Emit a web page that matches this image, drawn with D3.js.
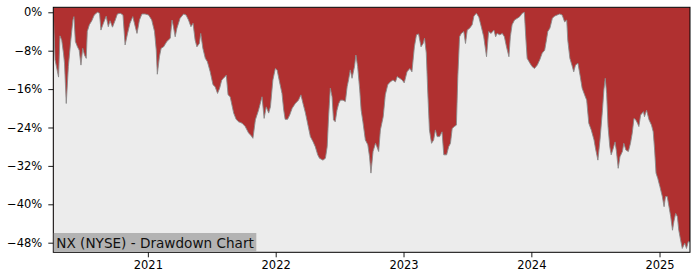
<!DOCTYPE html>
<html>
<head>
<meta charset="utf-8">
<script src="https://cdn.jsdelivr.net/npm/d3@7"></script>
<style>
  html, body { margin: 0; padding: 0; background: #ffffff; }
  svg { display: block; }
  text { font-family: "DejaVu Sans", sans-serif; }
</style>
</head>
<body>
<div id="chart"></div>
<script>
// ---- data ----
const dates = [
  "2020-04-06","2020-04-11","2020-04-21","2020-04-25","2020-04-30","2020-05-05","2020-05-08","2020-05-13","2020-05-19","2020-05-26",
  "2020-06-01","2020-06-04","2020-06-08","2020-06-14","2020-06-19","2020-06-24","2020-06-29","2020-07-04","2020-07-09","2020-07-12",
  "2020-07-18","2020-07-25","2020-08-01","2020-08-10","2020-08-16","2020-08-20","2020-08-27","2020-09-04","2020-09-10","2020-09-15",
  "2020-09-22","2020-09-30","2020-10-06","2020-10-14","2020-10-22","2020-10-28","2020-11-04","2020-11-11","2020-11-19","2020-11-26",
  "2020-12-01","2020-12-08","2020-12-15","2020-12-24","2021-01-03","2021-01-12","2021-01-20","2021-01-25","2021-01-28","2021-02-03",
  "2021-02-08","2021-02-15","2021-02-24","2021-03-06","2021-03-11","2021-03-15","2021-03-20","2021-03-25","2021-04-03","2021-04-13",
  "2021-04-20","2021-04-27","2021-05-04","2021-05-10","2021-05-16","2021-05-21","2021-05-28","2021-06-01","2021-06-07","2021-06-14",
  "2021-06-20","2021-06-28","2021-07-06","2021-07-12","2021-07-19","2021-07-25","2021-07-31","2021-08-05","2021-08-13","2021-08-18",
  "2021-08-24","2021-09-03","2021-09-10","2021-09-17","2021-09-27","2021-10-06","2021-10-16","2021-10-22","2021-10-28","2021-11-04",
  "2021-11-13","2021-11-23","2021-11-29","2021-12-05","2021-12-12","2021-12-17","2021-12-24","2021-12-31","2022-01-05","2022-01-12",
  "2022-01-19","2022-01-24","2022-01-28","2022-02-04","2022-02-10","2022-02-17","2022-02-26","2022-03-07","2022-03-14","2022-03-20",
  "2022-03-27","2022-04-02","2022-04-10","2022-04-18","2022-04-24","2022-05-01","2022-05-06","2022-05-16","2022-05-23","2022-05-28",
  "2022-06-01","2022-06-06","2022-06-11","2022-06-15","2022-06-20","2022-06-25","2022-06-30","2022-07-05","2022-07-12","2022-07-19",
  "2022-07-24","2022-07-28","2022-08-02","2022-08-07","2022-08-14","2022-08-18","2022-08-23","2022-08-29","2022-09-02","2022-09-07",
  "2022-09-14","2022-09-21","2022-09-26","2022-09-30","2022-10-06","2022-10-13","2022-10-17","2022-10-22","2022-10-27","2022-11-04",
  "2022-11-10","2022-11-17","2022-11-24","2022-12-02","2022-12-09","2022-12-14","2022-12-21","2022-12-28","2023-01-03","2023-01-11",
  "2023-01-19","2023-01-25","2023-02-01","2023-02-07","2023-02-13","2023-02-20","2023-02-26","2023-03-02","2023-03-07","2023-03-11",
  "2023-03-16","2023-03-22","2023-03-28","2023-04-02","2023-04-07","2023-04-14","2023-04-21","2023-04-26","2023-05-04","2023-05-10",
  "2023-05-15","2023-05-20","2023-05-26","2023-06-01","2023-06-05","2023-06-10","2023-06-15","2023-06-22","2023-06-27","2023-07-02",
  "2023-07-09","2023-07-16","2023-07-21","2023-07-28","2023-08-04","2023-08-11","2023-08-18","2023-08-26","2023-09-01","2023-09-08",
  "2023-09-16","2023-09-21","2023-09-25","2023-10-03","2023-10-10","2023-10-16","2023-10-22","2023-10-29","2023-11-02","2023-11-07",
  "2023-11-14","2023-11-22","2023-11-29","2023-12-06","2023-12-12","2023-12-16","2023-12-20","2023-12-28","2024-01-03","2024-01-10",
  "2024-01-18","2024-01-25","2024-02-01","2024-02-08","2024-02-13","2024-02-17","2024-02-23","2024-03-01","2024-03-07","2024-03-15",
  "2024-03-22","2024-03-29","2024-04-05","2024-04-11","2024-04-14","2024-04-20","2024-04-27","2024-05-01","2024-05-06","2024-05-13",
  "2024-05-19","2024-05-25","2024-06-01","2024-06-07","2024-06-13","2024-06-20","2024-06-28","2024-07-02","2024-07-09","2024-07-15",
  "2024-07-22","2024-07-26","2024-07-30","2024-08-03","2024-08-07","2024-08-12","2024-08-16","2024-08-22","2024-08-27","2024-08-31",
  "2024-09-05","2024-09-10","2024-09-17","2024-09-21","2024-09-27","2024-10-04","2024-10-10","2024-10-15","2024-10-20","2024-10-25",
  "2024-10-30","2024-11-03","2024-11-08","2024-11-16","2024-11-19","2024-11-25","2024-12-02","2024-12-09","2024-12-14","2024-12-18",
  "2024-12-22","2024-12-27","2025-01-02","2025-01-09","2025-01-14","2025-01-18","2025-01-23","2025-01-28","2025-02-02","2025-02-07",
  "2025-02-11","2025-02-16","2025-02-21","2025-02-25","2025-03-02","2025-03-07","2025-03-14","2025-03-19","2025-03-24","2025-03-29"
];
const drawdown = [
  -0.35,-9.9,-13.5,-4.9,-5.8,-8.5,-10.6,-19.0,-11.3,-5.8,
  -1.6,-0.9,-6.1,-7.2,-7.9,-11.0,-7.5,-8.9,-9.6,-4.0,
  -2.6,-1.75,-0.56,0,-0.2,-3.7,-2.3,-0.8,-3.0,-1.75,
  -3.1,-1.6,-0.35,-0.2,-0.56,-6.8,-4.4,-2.3,-0.9,-3.0,
  -4.4,-1.6,-0.35,-0.35,-0.56,-1.6,-4.0,-7.9,-12.9,-9.25,
  -7.5,-7.2,-6.1,-5.4,-1.6,-3.0,-5.1,-3.3,-1.25,-0.35,
  -0.56,-1.6,-3.0,-2.3,-5.8,-7.2,-6.5,-4.4,-7.5,-9.6,
  -10.3,-12.4,-15.1,-15.5,-16.9,-15.8,-14.1,-13.75,-13.1,-17.2,
  -17.6,-21.0,-22.3,-22.8,-23.1,-23.8,-25.2,-25.6,-26.25,-22.4,
  -20.4,-17.6,-22.1,-19.7,-21.0,-19.7,-14.1,-11.7,-12.0,-14.5,
  -16.9,-20.4,-22.3,-22.3,-21.4,-20.0,-19.0,-18.3,-17.2,-19.0,
  -21.0,-23.1,-25.9,-27.0,-28.0,-29.7,-30.4,-30.8,-30.4,-28.0,
  -21.75,-15.8,-17.6,-22.4,-22.8,-20.4,-19.0,-18.3,-18.3,-18.6,
  -15.5,-14.1,-12.0,-13.75,-11.3,-8.9,-11.3,-16.2,-20.4,-22.8,
  -26.6,-27.6,-30.1,-33.5,-29.0,-27.3,-28.0,-29.0,-24.5,-21.75,
  -17.2,-15.1,-14.5,-14.1,-14.5,-13.4,-13.75,-14.1,-14.7,-12.4,
  -11.7,-12.4,-7.2,-4.7,-4.5,-7.2,-6.5,-5.4,-8.5,-16.2,
  -24.5,-27.3,-26.6,-24.5,-25.9,-25.9,-24.9,-29.7,-29.7,-28.0,
  -27.3,-24.2,-23.8,-23.5,-13.4,-5.1,-4.4,-4.0,-6.5,-3.7,
  -3.3,-2.6,-0.8,-0.2,-1.0,-3.0,-5.1,-9.25,-4.0,-4.4,
  -3.7,-5.1,-4.4,-4.7,-4.4,-5.1,-7.2,-9.25,-5.1,-2.6,
  -1.6,-1.25,-0.9,-0.2,0,-5.1,-9.6,-10.6,-11.3,-11.7,
  -11.0,-9.9,-8.5,-7.9,-5.8,-4.0,-3.3,-1.25,-0.8,-0.56,
  -0.35,-0.56,-2.0,-1.6,-5.8,-9.6,-11.3,-12.4,-11.0,-10.6,
  -13.1,-15.8,-17.2,-18.3,-23.1,-24.5,-26.6,-28.3,-30.8,-26.6,
  -20.4,-16.2,-13.75,-16.9,-23.8,-28.0,-29.7,-28.3,-27.0,-29.0,
  -32.5,-30.1,-29.0,-27.3,-28.7,-29.0,-27.3,-25.2,-22.1,-22.4,
  -23.1,-23.8,-21.4,-20.7,-21.75,-20.4,-22.4,-23.5,-24.9,-28.7,
  -33.5,-34.6,-36.3,-38.4,-40.5,-38.4,-38.4,-40.5,-42.6,-45.4,
  -43.6,-41.9,-42.6,-45.4,-47.4,-49.2,-48.1,-49.2,-47.8,-47.8
];
const yTicks = [0, -8, -16, -24, -32, -40, -48];
const xTickYears = [2021, 2022, 2023, 2024, 2025];
const titleText = "NX (NYSE) - Drawdown Chart";

// ---- layout ----
const W = 700, H = 280;
const margin = { left: 53.3, top: 7.3, right: 10, bottom: 27.7 };
const pw = 690 - margin.left, ph = 252.3 - margin.top;

const parse = d3.utcParse("%Y-%m-%d");
const data = dates.map((d, i) => ({ date: parse(d), v: drawdown[i] }));

const x = d3.scaleUtc().domain(d3.extent(data, d => d.date)).range([0, pw]);
const y = d3.scaleLinear().domain([-50, 1.04]).range([ph, 0]);

const svg = d3.select("#chart").append("svg").attr("width", W).attr("height", H);
const g = svg.append("g").attr("transform", `translate(${margin.left},${margin.top})`);

g.append("clipPath").attr("id", "clip").append("rect").attr("width", pw).attr("height", ph);

const plot = g.append("g").attr("clip-path", "url(#clip)");
plot.append("rect").attr("width", pw).attr("height", ph).attr("fill", "#b03030");

const area = d3.area().x(d => x(d.date)).y0(ph).y1(d => y(d.v));
plot.append("path").datum(data).attr("d", area).attr("fill", "#ececec");
const line = d3.line().x(d => x(d.date)).y(d => y(d.v));
plot.append("path").datum(data).attr("d", line).attr("fill", "none")
  .attr("stroke", "#8a8a8a").attr("stroke-width", 0.9);

// axes
const fmt = v => (v < 0 ? "\u2212" + Math.abs(v) : String(v)) + "%";
const yAxis = d3.axisLeft(y).tickValues(yTicks).tickFormat(fmt).tickSize(5).tickPadding(6);
const gy = g.append("g").call(yAxis);
const xAxis = d3.axisBottom(x).tickValues(xTickYears.map(yr => new Date(Date.UTC(yr, 0, 1))))
  .tickFormat(d3.utcFormat("%Y")).tickSize(5).tickPadding(4);
const gx = g.append("g").attr("transform", `translate(0,${ph})`).call(xAxis);
[gx, gy].forEach(a => {
  a.select(".domain").remove();
  a.selectAll("text").attr("font-size", "11.5px").attr("fill", "#000").attr("font-family", "DejaVu Sans, sans-serif");
  a.selectAll("line").attr("stroke", "#000").attr("stroke-width", 0.9);
});

// frame
g.append("rect").attr("width", pw).attr("height", ph).attr("fill", "none")
  .attr("stroke", "#000").attr("stroke-width", 1);

// title box
const tg = g.append("g");
const tt = tg.append("text").attr("x", 3).attr("y", ph - 4.5)
  .attr("font-size", "13.6px").attr("fill", "#111").text(titleText);
const bb = tt.node().getBBox();
tg.insert("rect", "text").attr("x", 0.5).attr("y", ph - 19.3).attr("width", bb.width + 5)
  .attr("height", 18.8).attr("fill", "#b3b3b3");
</script>
</body>
</html>
